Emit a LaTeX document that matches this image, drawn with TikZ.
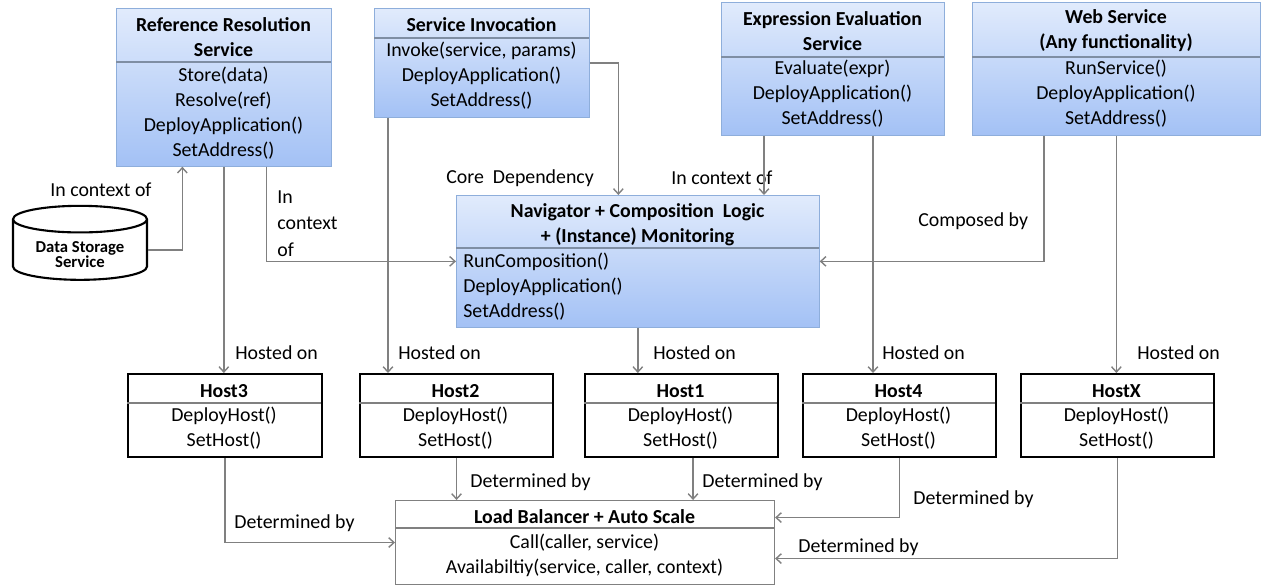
\documentclass[tikz,border=0pt]{standalone}
\usepackage{fontspec}
\setmainfont{Carlito}
\usepackage{tikz}
\usetikzlibrary{shapes.geometric,arrows.meta,calc}
\definecolor{svctop}{HTML}{E1EBFC}
\definecolor{svcbot}{HTML}{A3C1F5}
\definecolor{svcline}{HTML}{8EAEDB}
\definecolor{svcdiv}{HTML}{7F8EA3}
\definecolor{wire}{HTML}{808080}
\def \px {0.02cm}
\newcommand{\txt}{\fontsize{11.3}{14.2}\selectfont}
\newcommand{\dstxt}{\fontsize{9.5}{8.5}\selectfont\bfseries}
\tikzstyle{service} = [draw=svcline,top color=svctop,bottom color=svcbot,rectangle,inner sep=0,anchor=north west]
\tikzstyle{host} = [draw=black,line width=1.2pt,fill=white,rectangle,inner sep=0,anchor=north west]
\tikzstyle{balancer} = [draw=wire,line width=0.6pt,fill=white,rectangle,inner sep=0,anchor=north west]
\tikzstyle{heading} = [font=\txt\bfseries,align=center,inner sep=0]
\tikzstyle{ops} = [font=\txt,align=center,inner sep=0]
\tikzstyle{words} = [font=\txt,anchor=west,inner sep=0]
\tikzstyle{lbl} = [words,text height=8pt,text depth=2.3pt]
\tikzstyle{divider} = [-,draw=svcdiv,line width=0.6pt]
\tikzstyle{hdivider} = [-,draw=wire,line width=0.6pt]
\tikzstyle{link} = [-{Straight Barb[length=3pt,width=5.5pt]},draw=wire,line width=0.8pt]

\begin{document}
\begin{tikzpicture}[x=\px,y=-\px]
  \useasboundingbox (0,0) rectangle (1261,586);

  \node[service,minimum width=215*\px,minimum height=158*\px] (rrs) at (116,8) {};
  \node[service,minimum width=215*\px,minimum height=109*\px] (si) at (374,8) {};
  \node[service,minimum width=223*\px,minimum height=133*\px] (ee) at (721,2) {};
  \node[service,minimum width=288*\px,minimum height=133*\px] (ws) at (972,2) {};
  \node[service,minimum width=363*\px,minimum height=132*\px] (nav) at (456,195) {};
  \draw[divider] ($(rrs.north west)+(0,54)$) -- +(215,0);
  \draw[divider] ($(si.north west)+(0,30)$) -- +(215,0);
  \draw[divider] ($(ee.north west)+(0,55)$) -- +(223,0);
  \draw[divider] ($(ws.north west)+(0,55)$) -- +(288,0);
  \draw[divider] ($(nav.north west)+(0,53)$) -- +(363,0);

  \node[heading] (rrs-h) at (223.5,37.5) {Reference Resolution\\Service};
  \node[ops] (rrs-m) at (223.5,113.5) {Store(data)\\Resolve(ref)\\DeployApplication()\\SetAddress()};
  \node[heading] (si-h) at (481.5,25) {Service Invocation};
  \node[ops] (si-m) at (481.5,76) {Invoke(service, params)\\DeployApplication()\\SetAddress()};
  \node[heading] (ee-h) at (832.5,31) {Expression Evaluation\\Service};
  \node[ops] (ee-m) at (832.5,94) {Evaluate(expr)\\DeployApplication()\\SetAddress()};
  \node[heading] (ws-h) at (1116,31) {Web Service\\(Any functionality)};
  \node[ops] (ws-m) at (1116,94) {RunService()\\DeployApplication()\\SetAddress()};
  \node[heading] (nav-h) at (637.5,224.5) {Navigator + Composition\ \ Logic\\+ (Instance) Monitoring};
  \node[ops,anchor=west,align=left] (nav-m) at (463,286.5) {RunComposition()\\DeployApplication()\\SetAddress()};

  \node[cylinder,shape border rotate=90,aspect=0.3,draw=black,line width=1.2pt,fill=white,
        minimum width=134*\px,minimum height=74*\px,inner sep=0,align=center,font=\dstxt]
        (ds) at (80,250) {\phantom{Data Storage}\\\phantom{Service}};
  \node[align=center,inner sep=0,font=\dstxt] (ds-t) at (80,254.5) {Data Storage\\Service};

  \node[host,minimum width=194*\px,minimum height=83*\px] (host3) at (127,373) {};
  \node[host,minimum width=193*\px,minimum height=83*\px] (host2) at (359,373) {};
  \node[host,minimum width=193*\px,minimum height=83*\px] (host1) at (584,373) {};
  \node[host,minimum width=193*\px,minimum height=83*\px] (host4) at (802,373) {};
  \node[host,minimum width=193*\px,minimum height=83*\px] (hostx) at (1020,373) {};
  \draw[hdivider] ($(host3.north west)+(0,30)$) -- +(194,0);
  \draw[hdivider] ($(host2.north west)+(0,30)$) -- +(193,0);
  \draw[hdivider] ($(host1.north west)+(0,30)$) -- +(193,0);
  \draw[hdivider] ($(host4.north west)+(0,30)$) -- +(193,0);
  \draw[hdivider] ($(hostx.north west)+(0,30)$) -- +(193,0);
  \node[heading] (host3-h) at (224,391) {Host3};
  \node[ops] (host3-m) at (224,428) {DeployHost()\\SetHost()};
  \node[heading] (host2-h) at (455.5,391) {Host2};
  \node[ops] (host2-m) at (455.5,428) {DeployHost()\\SetHost()};
  \node[heading] (host1-h) at (680.5,391) {Host1};
  \node[ops] (host1-m) at (680.5,428) {DeployHost()\\SetHost()};
  \node[heading] (host4-h) at (898.5,391) {Host4};
  \node[ops] (host4-m) at (898.5,428) {DeployHost()\\SetHost()};
  \node[heading] (hostx-h) at (1116.5,391) {HostX};
  \node[ops] (hostx-m) at (1116.5,428) {DeployHost()\\SetHost()};

  \node[balancer,minimum width=379*\px,minimum height=84*\px] (lb) at (395,500) {};
  \draw[hdivider] ($(lb.north west)+(0,28)$) -- +(379,0);
  \node[heading] (lb-h) at (584.5,517) {Load Balancer + Auto Scale};
  \node[ops] (lb-m) at (584.5,555) {Call(caller, service)\\Availabiltiy(service, caller, context)};

  \node[lbl] (ctx-ds) at (50,191) {In context of};
  \node[words,align=left,font=\fontsize{11.3}{15}\selectfont] (ctx-rrs) at (277,223.5) {In\\context\\of};
  \node[lbl] (core) at (446,178) {Core\ \ Dependency};
  \node[lbl] (ctx-ee) at (671,179) {In context of};
  \node[lbl] (composed) at (918,221) {Composed by};
  \node[lbl] (on3) at (235,354) {Hosted on};
  \node[lbl] (on2) at (398,354) {Hosted on};
  \node[lbl] (on1) at (653,354) {Hosted on};
  \node[lbl] (on4) at (882,354) {Hosted on};
  \node[lbl] (onx) at (1137,354) {Hosted on};
  \node[lbl] (det3) at (234,523) {Determined by};
  \node[lbl] (det2) at (470,482) {Determined by};
  \node[lbl] (det1) at (702,482) {Determined by};
  \node[lbl] (det4) at (913,499) {Determined by};
  \node[lbl] (detx) at (798,547) {Determined by};

  \coordinate (si-out) at ($(si.south west)+(14,0)$);
  \coordinate (ee-ctx) at ($(ee.south west)+(43,0)$);
  \coordinate (ee-out) at ($(ee.south west)+(152,0)$);
  \coordinate (h1-out) at ($(host1.south)+(11.5,0)$);

  \draw[link] (ds.east) -| ($(rrs.south)+(-41.5,0)$);
  \draw[link] ($(rrs.south)+(42.5,0)$) |- (nav.west);
  \draw[link] (rrs.south) -- (rrs.south |- host3.north);
  \draw[link] (si.east) -| ($(nav.north)+(-19.5,0)$);
  \draw[link] (si-out) -- (si-out |- host2.north);
  \draw[link] (ee-ctx) -- (ee-ctx |- nav.north);
  \draw[link] (ee-out) -- (ee-out |- host4.north);
  \draw[link] ($(ws.south west)+(72,0)$) |- (nav.east);
  \draw[link] (ws.south) -- (ws.south |- hostx.north);
  \draw[link] (nav.south) -- (nav.south |- host1.north);

  \draw[link] (host3.south) |- (lb.west);
  \draw[link] (host2.south) -- (host2.south |- lb.north);
  \draw[link] (h1-out) -- (h1-out |- lb.north);
  \draw[link] (host4.south) |- ($(lb.east)+(0,-25)$);
  \draw[link] (hostx.south) |- ($(lb.east)+(0,16)$);
\end{tikzpicture}
\end{document}
